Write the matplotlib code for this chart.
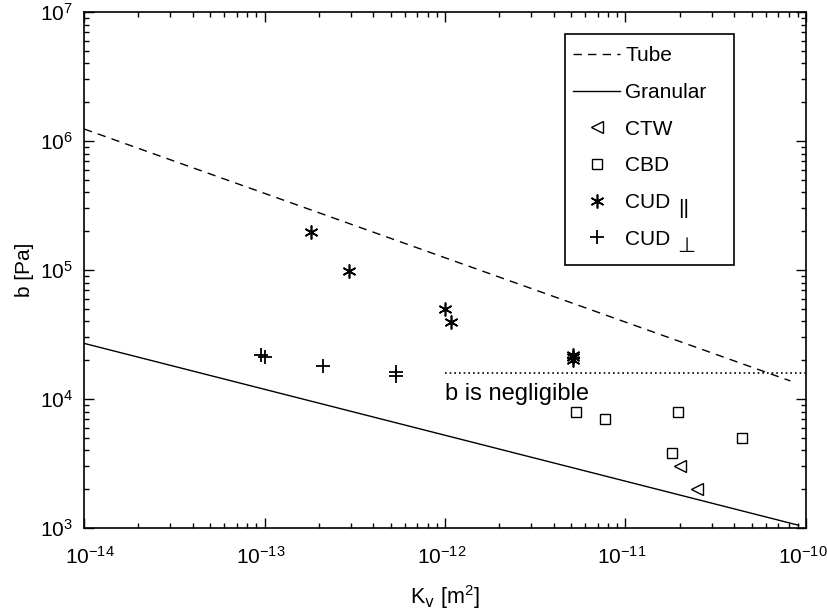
import matplotlib
matplotlib.use('Agg')
import matplotlib.pyplot as plt
import matplotlib.transforms as mtransforms
from matplotlib.patches import Rectangle

plt.rcParams['font.family'] = ['Liberation Sans', 'DejaVu Sans']
plt.rcParams['mathtext.default'] = 'regular'

# model lines
k_tube = [1e-14, 8.2e-11]
b_tube = [1.24e6, 1.38e4]
k_gran = [1e-14, 9.1e-11]
b_gran = [2.7e4, 1.05e3]
k_negl = [1e-12, 1e-10]
b_negl = [1.6e4, 1.6e4]

# measurements
k_ctw = [2.0e-11, 2.5e-11]
b_ctw = [3.0e3, 2.0e3]
k_cbd = [5.3e-12, 7.7e-12, 1.95e-11, 4.4e-11, 1.81e-11]
b_cbd = [8.0e3, 7.0e3, 8.0e3, 5.0e3, 3.8e3]
k_cud_par = [1.82e-13, 2.93e-13, 1.0e-12, 1.08e-12, 5.1e-12, 5.1e-12, 5.1e-12]
b_cud_par = [1.96e5, 9.9e4, 4.96e4, 3.95e4, 2.2e4, 2.1e4, 2.0e4]
k_cud_perp = [9.6e-14, 1.0e-13, 2.11e-13, 5.35e-13, 5.35e-13]
b_cud_perp = [2.2e4, 2.1e4, 1.8e4, 1.61e4, 1.52e4]

fig = plt.figure(figsize=(8.28, 6.13), dpi=100)
ax = fig.add_axes([84/828, 1-528/613, 722/828, 516/613])

ax.plot(k_tube, b_tube, 'k--', lw=1.0, dashes=(6, 4.5), label='Tube')
ax.plot(k_gran, b_gran, 'k-', lw=1.0, label='Granular')
ax.plot(k_ctw, b_ctw, ls='none', marker='<', ms=9, mfc='none', mec='k', mew=1.0, label='CTW')
ax.plot(k_cbd, b_cbd, ls='none', marker='s', ms=7.5, mfc='none', mec='k', mew=1.0, label='CBD')
ax.plot(k_cud_par, b_cud_par, ls='none', marker=(6, 2, 0), ms=10, mec='k', mew=1.2, label='CUD')
ax.plot(k_cud_perp, b_cud_perp, ls='none', marker='+', ms=9.5, mec='k', mew=1.3, label='CUD')
ax.plot(k_negl, b_negl, 'k', ls=(0, (1, 1.8)), lw=1.2)
ax.text(1.0e-12, 1.33e4, 'b is negligible', fontsize=17, va='top', ha='left')

ax.set_xscale('log')
ax.set_yscale('log')
ax.set_xlim(1e-14, 1e-10)
ax.set_ylim(1e3, 1e7)
ax.set_xlabel(r'K$_{\rm v}$ [m$^2$]', fontsize=15.5, labelpad=11)
ax.set_ylabel('b [Pa]', fontsize=15, labelpad=4)

ax.tick_params(which='both', direction='in', top=True, right=True, labelsize=15, width=1.0)
ax.tick_params(which='major', length=7)
ax.tick_params(which='minor', length=3.5)
ax.tick_params(axis='x', pad=13)
ax.tick_params(axis='y', pad=8)
for s in ax.spines.values():
    s.set_linewidth(1.2)

# legend box drawn separately so it can be taller than the entries
ax.add_patch(Rectangle((0.666, 0.5097), 0.234, 0.4477, transform=ax.transAxes,
                       fc='w', ec='k', lw=1.2, zorder=4.5))
leg = ax.legend(loc='upper left', bbox_to_anchor=(0.666, 0.950, 0.234, 0.0), mode='expand',
                borderaxespad=0, fontsize=15, frameon=False, handlelength=2.25,
                handletextpad=0.25, labelspacing=0.85, borderpad=0.4)

# subscripts of the CUD labels, drawn as in the original
ax.text(0.830, 0.620, '||', transform=ax.transAxes, fontsize=15, ha='center', va='center', zorder=10)
ax.text(0.8347, 0.5446, '\u22a5', transform=ax.transAxes, fontsize=15, ha='center', va='center', zorder=10)

# nudge x tick labels like the original layout
fig.canvas.draw()
for tick in ax.xaxis.get_major_ticks():
    dx = 4.5 if abs(tick.get_loc() - 1e-14) < 1e-16 else -2.5
    lab = tick.label1
    lab.set_transform(lab.get_transform() + mtransforms.ScaledTranslation(dx/72, 0, fig.dpi_scale_trans))

fig.savefig('out.png', dpi=100)
